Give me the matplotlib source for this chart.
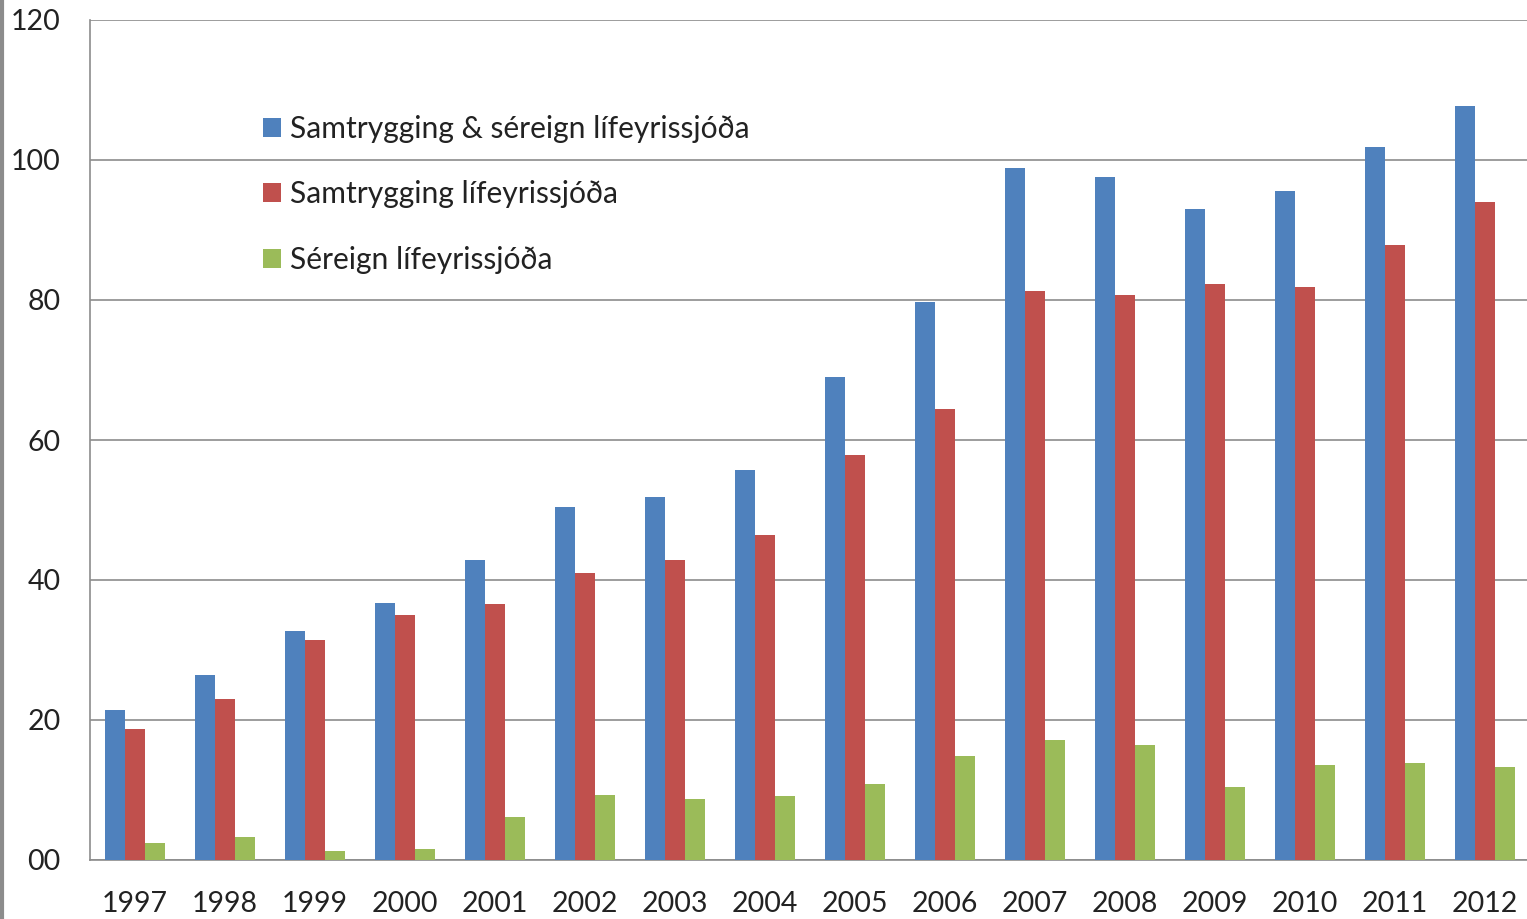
import numpy as np
import matplotlib
matplotlib.use("Agg")
import matplotlib.pyplot as plt
from matplotlib.lines import Line2D

years = ["1997", "1998", "1999", "2000", "2001", "2002", "2003", "2004",
         "2005", "2006", "2007", "2008", "2009", "2010", "2011", "2012"]
samtr_sereign = [21.4, 26.4, 32.7, 36.7, 42.9, 50.4, 51.9, 55.7,
                 69.0, 79.7, 98.9, 97.6, 93.0, 95.6, 101.9, 107.7]
samtrygging = [18.7, 23.0, 31.4, 35.0, 36.6, 41.0, 42.9, 46.4,
               57.9, 64.4, 81.3, 80.7, 82.3, 81.9, 87.9, 94.0]
sereign = [2.4, 3.3, 1.3, 1.6, 6.1, 9.3, 8.7, 9.1,
           10.9, 14.9, 17.1, 16.4, 10.4, 13.6, 13.9, 13.3]
labels = ["Samtrygging & séreign lífeyrissjóða",
          "Samtrygging lífeyrissjóða",
          "Séreign lífeyrissjóða"]
yticks = [0, 20, 40, 60, 80, 100, 120]
ytick_labels = ["00", "20", "40", "60", "80", "100", "120"]

colors = ["#4F81BD", "#C0504D", "#9BBB59"]
plt.rcParams["font.family"] = ["Lato", "DejaVu Sans"]

fig = plt.figure(figsize=(15.27, 9.19), dpi=100)
ax = fig.add_axes([90 / 1527, 1 - 860 / 919, 1440 / 1527, 840 / 919])

x = np.arange(len(years))
w = 2 / 9
for i, (vals, c, lab) in enumerate(zip([samtr_sereign, samtrygging, sereign], colors, labels)):
    ax.bar(x + (i - 1) * w, vals, width=w, color=c, label=lab, zorder=3)

ax.set_xlim(-0.5, len(years) - 0.5)
ax.set_ylim(0, 120)
ax.set_yticks(yticks, ytick_labels)
ax.set_xticks(x, years)
ax.tick_params(axis="both", length=0, labelsize=20.5, colors="#222222")
ax.tick_params(axis="y", pad=21)
ax.tick_params(axis="x", pad=22)
ax.yaxis.grid(True, color="#8c8c8c", linewidth=1.2, zorder=0)
for s in ["top", "right"]:
    ax.spines[s].set_visible(False)
for s in ["left", "bottom"]:
    ax.spines[s].set_color("#8c8c8c")
    ax.spines[s].set_linewidth(1.2)

ax.legend(loc="upper left", bbox_to_anchor=(0.11, 0.905), frameon=False,
          fontsize=21.6, handlelength=0.6, handleheight=0.6, handletextpad=0.3,
          labelspacing=1.25, borderpad=0, labelcolor="#222222")

fig.add_artist(Line2D([0.0015, 0.0015], [0, 1], color="#8c8c8c", linewidth=3,
                      transform=fig.transFigure))

fig.savefig("out.png", dpi=100)
